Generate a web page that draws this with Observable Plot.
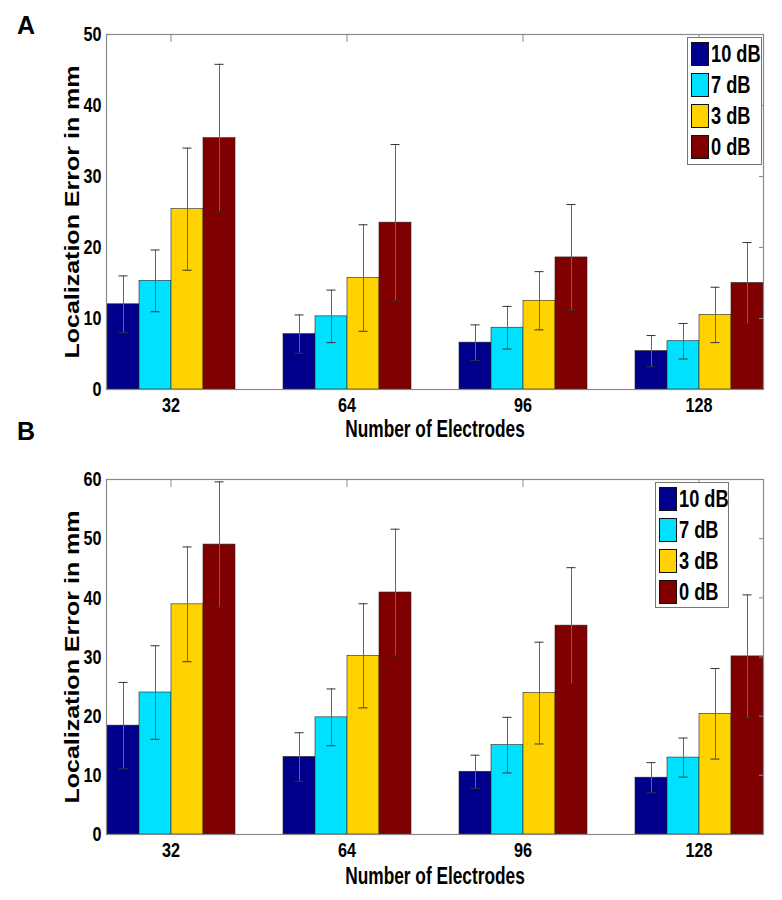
<!DOCTYPE html>
<html>
<head>
<meta charset="utf-8">
<script src="https://cdn.jsdelivr.net/npm/d3@7"></script>
<script src="https://cdn.jsdelivr.net/npm/@observablehq/plot@0.6"></script>
<style>
  body { margin: 0; background: #fff; }
  #wrap { position: relative; width: 782px; height: 900px; overflow: hidden; background: #fff; }
  .panel { position: absolute; left: 0; }
  .letter { position: absolute; font-family: "Liberation Sans", Arial, sans-serif; font-weight: bold; font-size: 25px; line-height: 25px; color: #000; }
  .legbox { position: absolute; border: 1px solid #777; background: #fff; box-sizing: border-box; padding: 4px 0 0 3px; }
  .legrow { display: flex; align-items: center; height: 24px; margin-bottom: 7px; }
  .legsw { width: 18px; height: 24px; box-sizing: border-box; border: 1px solid #111; flex: none; margin-right: 2px; }
  .leglab { display: inline-block; white-space: nowrap; transform: scaleX(0.76); transform-origin: left center; font-family: "Liberation Sans", Arial, sans-serif; font-weight: bold; font-size: 24px; line-height: 24px; color: #000; }
</style>
</head>
<body>
<div id="wrap"></div>
<script>
const groups = ["32", "64", "96", "128"];
const series = ["10 dB", "7 dB", "3 dB", "0 dB"];
const colors = ["#00008C", "#00E1FF", "#FFD200", "#800000"];
const yTicksA = [0, 10, 20, 30, 40, 50];
const yTicksB = [0, 10, 20, 30, 40, 50, 60];
const yTitle = "Localization Error in mm";
const xTitle = "Number of Electrodes";

// Panel A: means and error half-widths per series, in group order
const a10 = [12.0, 7.8, 6.6, 5.4];
const a7 = [15.3, 10.3, 8.7, 6.8];
const a3 = [25.4, 15.7, 12.5, 10.5];
const a0 = [35.4, 23.5, 18.6, 15.0];
const a10Err = [4.0, 2.7, 2.5, 2.2];
const a7Err = [4.35, 3.7, 3.0, 2.5];
const a3Err = [8.6, 7.5, 4.1, 3.9];
const a0Err = [10.4, 11.0, 7.45, 5.7];

// Panel B
const b10 = [18.4, 13.1, 10.6, 9.6];
const b7 = [24.0, 19.8, 15.1, 13.0];
const b3 = [38.9, 30.2, 23.9, 20.4];
const b0 = [49.0, 40.9, 35.3, 30.1];
const b10Err = [7.3, 4.1, 2.8, 2.55];
const b7Err = [7.9, 4.8, 4.7, 3.3];
const b3Err = [9.7, 8.8, 8.6, 7.65];
const b0Err = [10.6, 10.7, 9.8, 10.4];

function rowsOf(means, errs) {
  const out = [];
  groups.forEach((g, gi) => {
    series.forEach((s, si) => {
      out.push({group: g, series: s, value: means[si][gi], lo: means[si][gi] - errs[si][gi], hi: means[si][gi] + errs[si][gi]});
    });
  });
  return out;
}

const rowsA = rowsOf([a10, a7, a3, a0], [a10Err, a7Err, a3Err, a0Err]);
const rowsB = rowsOf([b10, b7, b3, b0], [b10Err, b7Err, b3Err, b0Err]);

const font = "'Liberation Sans', Arial, sans-serif";

function panel(rows, yTicks, mt, mb, xTitleOffset) {
  const yMax = yTicks[yTicks.length - 1];
  return Plot.plot({
    width: 782,
    height: 450,
    marginLeft: 105,
    marginRight: 18,
    marginTop: mt,
    marginBottom: mb,
    style: {fontFamily: font, fontWeight: "bold", fontSize: "21px", color: "#000", background: "transparent", overflow: "visible"},
    fx: {domain: groups, paddingInner: 0.267, paddingOuter: 0, label: null},
    x: {domain: series, padding: 0, axis: null},
    y: {domain: [0, yMax], axis: null},
    color: {domain: series, range: colors},
    marks: [
      Plot.barY(rows, {fx: "group", x: "series", y: "value", fill: "series", stroke: "#222", strokeWidth: 0.6}),
      Plot.ruleX(rows, {fx: "group", x: "series", y1: "lo", y2: "hi", stroke: "#666", strokeWidth: 1}),
      Plot.tickY(rows, {fx: "group", x: "series", y: "lo", insetLeft: 11.5, insetRight: 11.5, stroke: "#333", strokeWidth: 1}),
      Plot.tickY(rows, {fx: "group", x: "series", y: "hi", insetLeft: 11.5, insetRight: 11.5, stroke: "#333", strokeWidth: 1}),
      Plot.frame({stroke: "#8a8a8a", strokeWidth: 1.2, facet: "super"}),
      Plot.axisY({ticks: yTicks, tickSize: 0, tickPadding: 5, fontSize: 21, label: null}),
      Plot.axisY({anchor: "right", ticks: yTicks, tickSize: 5, dx: -5, stroke: "#8a8a8a", tickFormat: () => "", label: null}),
      Plot.axisFx({anchor: "top", tickSize: 7, dy: 7, stroke: "#8a8a8a", tickFormat: () => "", label: null}),
      Plot.axisFx({anchor: "bottom", tickSize: 0, tickPadding: 8, fontSize: 21, label: null}),
      Plot.text([yTitle], {text: d => d, frameAnchor: "left", rotate: -90, dx: -42, lineAnchor: "top", textAnchor: "middle", fontSize: 20, fontWeight: "bold", facet: "super"}),
      Plot.text([xTitle], {text: d => d, frameAnchor: "bottom", dy: xTitleOffset, lineAnchor: "bottom", textAnchor: "middle", fontSize: 24, fontWeight: "bold", facet: "super"})
    ]
  });
}

// mimic the narrow, vertically stretched lettering of the original figure
function condense(svg) {
  svg.querySelectorAll("text").forEach(t => {
    const s = t.textContent;
    if (!s) return;
    const len = t.getComputedTextLength();
    if (!(len > 0)) return;
    let f = 0.77;
    if (s === yTitle) f = 1.25;
    else if (s === xTitle) f = 0.72;
    t.setAttribute("textLength", (len * f).toFixed(2));
    t.setAttribute("lengthAdjust", "spacingAndGlyphs");
  });
}

const wrap = document.getElementById("wrap");

function makeLegend(chart) {
  const color = chart.scale("color");
  const box = document.createElement("div");
  box.className = "legbox";
  color.domain.forEach((s, i) => {
    const row = document.createElement("div");
    row.className = "legrow";
    const sw = document.createElement("span");
    sw.className = "legsw";
    sw.style.background = color.range[i];
    const lab = document.createElement("span");
    lab.className = "leglab";
    lab.textContent = s;
    row.appendChild(sw);
    row.appendChild(lab);
    box.appendChild(row);
  });
  return box;
}

function addPanel(chart, top, letter, letterTop, legLeft, legTop, legW, legH) {
  const holder = document.createElement("div");
  holder.className = "panel";
  holder.style.top = top + "px";
  holder.appendChild(chart);
  wrap.appendChild(holder);
  condense(chart);

  const L = document.createElement("div");
  L.className = "letter";
  L.style.left = "17px";
  L.style.top = letterTop + "px";
  L.textContent = letter;
  wrap.appendChild(L);

  const box = makeLegend(chart);
  box.style.left = legLeft + "px";
  box.style.top = legTop + "px";
  box.style.width = legW + "px";
  box.style.height = legH + "px";
  wrap.appendChild(box);
}

addPanel(panel(rowsA, yTicksA, 34, 61, 47), 0, "A", 13, 687, 37, 75, 128);
addPanel(panel(rowsB, yTicksB, 29, 66, 49), 450, "B", 419, 655, 482, 74, 126);
</script>
</body>
</html>
